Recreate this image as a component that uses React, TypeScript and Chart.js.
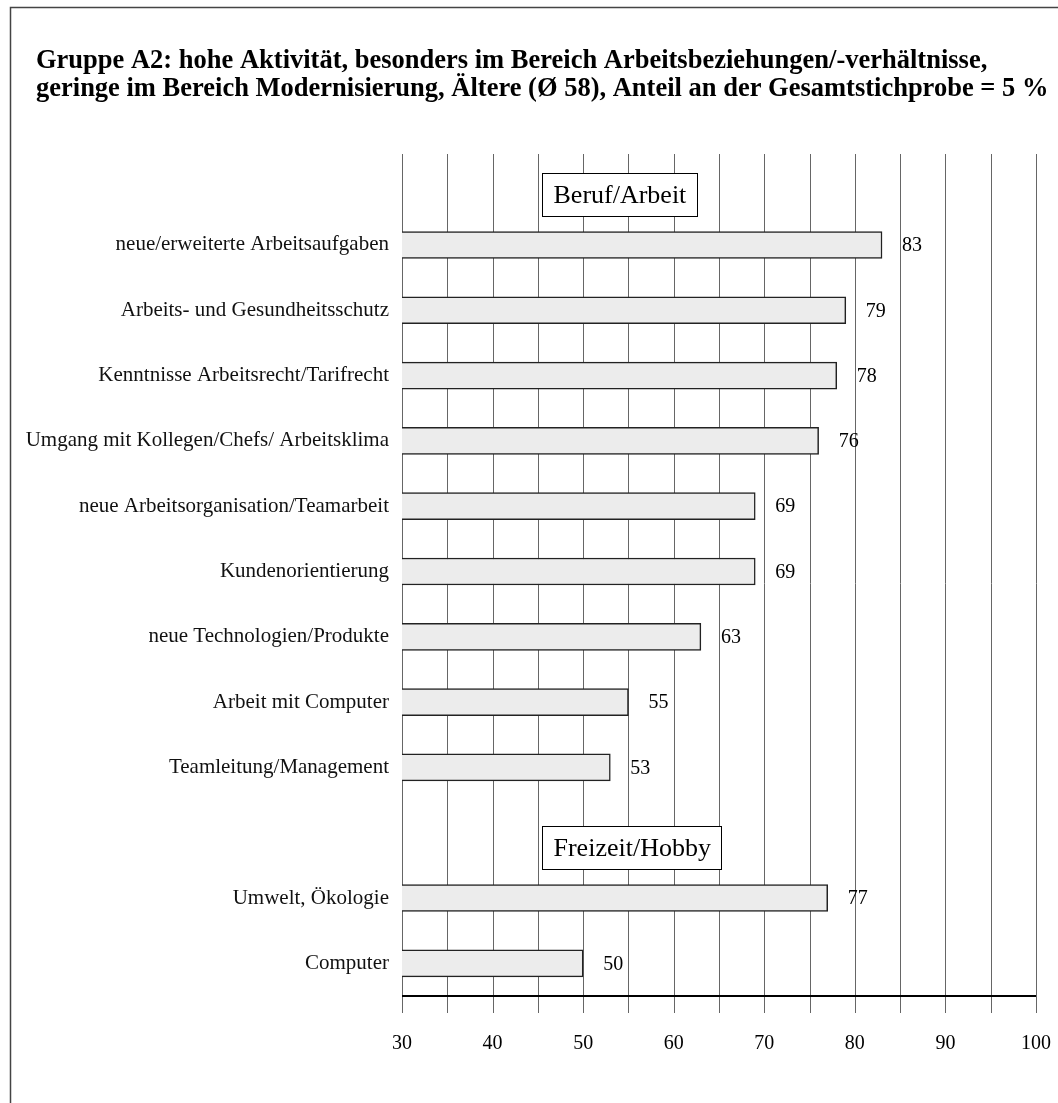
import React, { useEffect, useRef } from 'react';
import { Chart, registerables } from 'chart.js';

Chart.register(...registerables);

const TITLE_LINES = [
  'Gruppe A2: hohe Aktivität, besonders im Bereich Arbeitsbeziehungen/-verhältnisse,',
  'geringe im Bereich Modernisierung, Ältere (Ø 58), Anteil an der Gesamtstichprobe = 5 %',
];

const categories = [
  'Beruf/Arbeit',
  'neue/erweiterte Arbeitsaufgaben',
  'Arbeits- und Gesundheitsschutz',
  'Kenntnisse Arbeitsrecht/Tarifrecht',
  'Umgang mit Kollegen/Chefs/ Arbeitsklima',
  'neue Arbeitsorganisation/Teamarbeit',
  'Kundenorientierung',
  'neue Technologien/Produkte',
  'Arbeit mit Computer',
  'Teamleitung/Management',
  'Freizeit/Hobby',
  'Umwelt, Ökologie',
  'Computer',
];

const headerRows = [0, 10];

const values: (number | null)[] = [null, 83, 79, 78, 76, 69, 69, 63, 55, 53, null, 77, 50];

const X_MIN = 30;
const X_MAX = 100;
const GRID_STEP = 5;
const LABEL_STEP = 10;
const HEADER_X_VALUE = 45.46;

const FONT = '"Liberation Serif", "Times New Roman", serif';

const decorPlugin = {
  id: 'decor',
  beforeDraw(chart: any) {
    const { ctx, width, height } = chart;
    ctx.save();
    ctx.fillStyle = '#ffffff';
    ctx.fillRect(0, 0, width, height);
    ctx.strokeStyle = '#444';
    ctx.lineWidth = 1.5;
    ctx.beginPath();
    ctx.moveTo(10.5, height);
    ctx.lineTo(10.5, 7.5);
    ctx.lineTo(width, 7.5);
    ctx.stroke();
    ctx.fillStyle = '#000';
    ctx.font = `bold 26.5px ${FONT}`;
    ctx.textBaseline = 'alphabetic';
    ctx.textAlign = 'left';
    ctx.fillText(TITLE_LINES[0], 36, 68);
    ctx.fillText(TITLE_LINES[1], 36, 96);
    ctx.restore();
  },
  beforeDatasetsDraw(chart: any) {
    const { ctx, chartArea, scales } = chart;
    const x = scales.x;
    const y = scales.y;
    ctx.save();
    ctx.strokeStyle = '#666';
    ctx.lineWidth = 1;
    for (let v = X_MIN; v <= X_MAX; v += GRID_STEP) {
      const px = Math.round(x.getPixelForValue(v)) + 0.5;
      ctx.beginPath();
      ctx.moveTo(px, chartArea.top + 7);
      ctx.lineTo(px, chartArea.bottom + 17);
      ctx.stroke();
    }
    ctx.strokeStyle = '#000';
    ctx.lineWidth = 2;
    ctx.beginPath();
    ctx.moveTo(x.getPixelForValue(X_MIN), chartArea.bottom);
    ctx.lineTo(x.getPixelForValue(X_MAX), chartArea.bottom);
    ctx.stroke();

    // section header boxes
    const rowH = y.getPixelForValue(1) - y.getPixelForValue(0);
    ctx.font = `26px ${FONT}`;
    ctx.textBaseline = 'middle';
    ctx.textAlign = 'left';
    headerRows.forEach((r) => {
      const label = categories[r];
      const left = Math.round(x.getPixelForValue(HEADER_X_VALUE)) + 0.5;
      const cy = y.getPixelForValue(r) + 0.23 * rowH;
      const w = Math.round(ctx.measureText(label).width + 22);
      const h = 43;
      const top = Math.round(cy - h / 2) + 0.5;
      ctx.fillStyle = '#fff';
      ctx.fillRect(left, top, w, h);
      ctx.strokeStyle = '#000';
      ctx.lineWidth = 1;
      ctx.strokeRect(left, top, w, h);
      ctx.fillStyle = '#000';
      ctx.fillText(label, left + 11, cy + 1);
    });
    ctx.restore();
  },
  afterDatasetsDraw(chart: any) {
    const { ctx, scales } = chart;
    const x = scales.x;
    const y = scales.y;
    ctx.save();
    ctx.fillStyle = '#000';
    ctx.font = `20px ${FONT}`;
    ctx.textBaseline = 'middle';
    ctx.textAlign = 'left';
    values.forEach((v, i) => {
      if (v == null) return;
      ctx.fillText(String(v), x.getPixelForValue(v) + 20, y.getPixelForValue(i) + 1);
    });
    ctx.restore();
  },
};

export default function App() {
  const ref = useRef<HTMLCanvasElement | null>(null);

  useEffect(() => {
    if (!ref.current) return;
    const chart = new Chart(ref.current, {
      type: 'bar',
      data: {
        labels: categories,
        datasets: [
          {
            data: values as any,
            backgroundColor: '#ececec',
            borderColor: '#222',
            borderWidth: 1.5,
            borderSkipped: false,
            barThickness: 27,
          },
        ],
      },
      options: {
        indexAxis: 'y',
        responsive: false,
        maintainAspectRatio: false,
        animation: false,
        layout: { padding: { top: 147, right: 22, left: 0, bottom: 0 } },
        plugins: {
          legend: { display: false },
          title: { display: false },
          tooltip: { enabled: false },
        },
        scales: {
          x: {
            type: 'linear',
            min: X_MIN,
            max: X_MAX,
            grid: { display: false, drawTicks: false },
            border: { display: false },
            ticks: {
              stepSize: GRID_STEP,
              padding: 36,
              color: '#000',
              font: { family: FONT, size: 20 },
              maxRotation: 0,
              autoSkip: false,
              callback: (v: any) => (Number(v) % LABEL_STEP === 0 ? String(v) : ''),
            },
            afterFit: (s: any) => {
              s.height = 107;
              s.paddingLeft = 0;
              s.paddingRight = 0;
            },
          },
          y: {
            type: 'category',
            grid: { display: false, drawTicks: false },
            border: { display: false },
            ticks: {
              padding: 13,
              color: '#111',
              font: { family: FONT, size: 21 },
              autoSkip: false,
              callback: (_v: any, i: number) => (headerRows.includes(i) ? '' : categories[i]),
            },
            afterFit: (s: any) => {
              s.width = 402;
              s.paddingTop = 0;
              s.paddingBottom = 0;
            },
          },
        },
      },
      plugins: [decorPlugin],
    });
    return () => chart.destroy();
  }, []);

  return (
    <div style={{ position: 'fixed', left: 0, top: 0, width: 1058, height: 1103 }}>
      <canvas ref={ref} width={1058} height={1103} style={{ width: 1058, height: 1103 }} />
    </div>
  );
}
